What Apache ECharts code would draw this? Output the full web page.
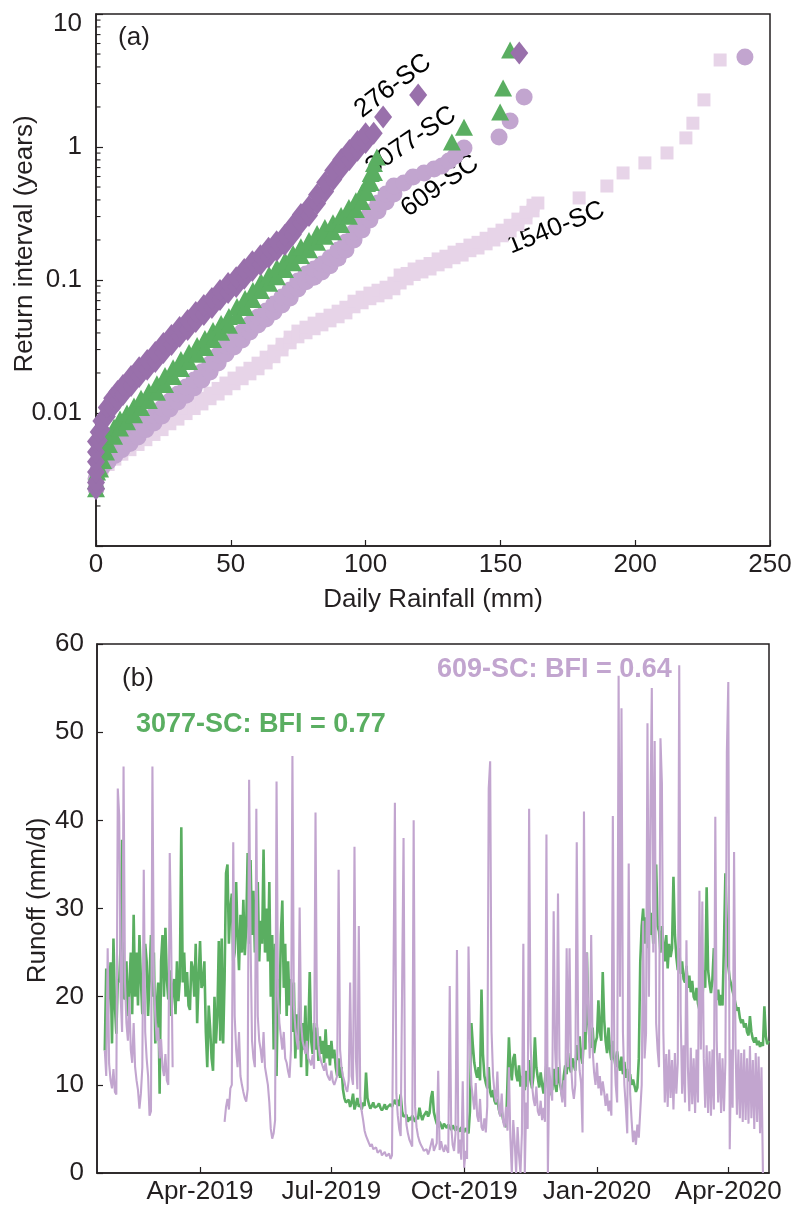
<!DOCTYPE html>
<html>
<head>
<meta charset="utf-8">
<script src="https://cdn.jsdelivr.net/npm/echarts@6/dist/echarts.min.js"></script>
<style>
html,body{margin:0;padding:0;background:#fff;}
#c{width:795px;height:1208px;}
</style>
</head>
<body>
<div id="c"></div>
<script>
// ---------- Panel (a): return interval (years) vs daily rainfall (mm) ----------
// each entry: [rainfall, lowest return interval, highest return interval] of the vertical run of markers at that rainfall
const s276 = [[0,0.0027,0.0030],[0,0.0036,0.0043],[0,0.0051,0.0061],[1,0.0062,0.0072],[2,0.0075,0.0087],[4,0.0094,0.0110],[6,0.0110,0.0129],[8,0.0124,0.0145],[10,0.0138,0.0161],[13,0.0161,0.0188],[16,0.0188,0.0219],[19,0.0213,0.0248],[22,0.0244,0.0285],[25,0.0285,0.0333],[28,0.0328,0.0382],[31,0.0377,0.0440],[34,0.0425,0.0496],[37,0.0488,0.0569],[40,0.0550,0.0642],[43,0.0621,0.0725],[46,0.0714,0.0833],[49,0.0806,0.0941],[52,0.0894,0.104],[55,0.103,0.120],[58,0.118,0.137],[61,0.131,0.152],[64,0.148,0.173],[67,0.167,0.194],[70,0.185,0.216],[73,0.220,0.257],[76,0.267,0.311],[79,0.306,0.356],[82,0.376,0.438],[85,0.463,0.540],[88,0.570,0.665],[91,0.690,0.805],[94,0.806,0.941],[97,0.944,1.10],[100,1.08,1.26],[103,1.27,1.27],[106.5,1.68,1.68],[119.5,2.46,2.46],[157,5.09,5.09]];
const s3077 = [[0,0.0027,0.0031],[0.4,0.0036,0.0036],[1.5,0.0038,0.0044],[2.6,0.0044,0.0052],[3.7,0.0051,0.0059],[4.8,0.0058,0.0068],[6.7,0.0067,0.0078],[8.9,0.0077,0.0090],[11.5,0.0086,0.0100],[14.1,0.0097,0.0113],[16.7,0.0110,0.0129],[19.6,0.0124,0.0145],[22.6,0.0143,0.0166],[25.6,0.0164,0.0191],[28.6,0.0188,0.0219],[31.5,0.0216,0.0252],[34.5,0.0244,0.0285],[37.5,0.0276,0.0322],[40.4,0.0311,0.0363],[43.4,0.0357,0.0417],[46.4,0.0404,0.0471],[49.3,0.0456,0.0531],[52.3,0.0542,0.0632],[55.3,0.0621,0.0725],[58.2,0.0714,0.0833],[61.2,0.0835,0.0974],[64.2,0.0944,0.110],[67.1,0.106,0.124],[70.1,0.120,0.140],[73.1,0.135,0.158],[76.0,0.153,0.178],[79.0,0.169,0.198],[82.0,0.192,0.224],[84.9,0.213,0.248],[87.9,0.231,0.270],[90.9,0.261,0.305],[93.8,0.301,0.351],[96.4,0.339,0.395],[98.7,0.390,0.455],[100.5,0.456,0.531],[101.9,0.542,0.632],[103.1,0.644,0.751],[104.2,0.841,0.841],[132.0,1.09,1.09],[136.5,1.41,1.41],[149.9,1.83,1.83],[151.0,2.78,2.78],[153.6,5.36,5.36]];
const s609 = [[0,0.0027,0.0032],[0.7,0.0037,0.0037],[2.2,0.0039,0.0045],[4.5,0.0043,0.0049],[7.0,0.0048,0.0055],[9.6,0.0053,0.0061],[12.6,0.0059,0.0068],[15.6,0.0066,0.0076],[18.5,0.0075,0.0086],[21.5,0.0084,0.0096],[24.5,0.0095,0.0109],[27.4,0.0107,0.0123],[30.4,0.0121,0.0139],[33.4,0.0136,0.0157],[36.4,0.0154,0.0177],[39.3,0.0177,0.0204],[42.3,0.0203,0.0234],[45.3,0.0238,0.0273],[48.2,0.0278,0.0319],[51.2,0.0313,0.0360],[54.2,0.0354,0.0406],[57.1,0.0407,0.0467],[60.1,0.0459,0.0527],[63.1,0.0509,0.0585],[66.0,0.0574,0.0659],[69.0,0.0648,0.0745],[72.0,0.0732,0.0842],[74.9,0.0855,0.0983],[77.9,0.0970,0.111],[80.9,0.105,0.121],[83.8,0.115,0.132],[86.8,0.128,0.147],[89.8,0.146,0.168],[92.7,0.168,0.193],[95.7,0.200,0.229],[98.7,0.238,0.273],[101.6,0.283,0.325],[104.6,0.330,0.379],[107.6,0.386,0.444],[110.5,0.443,0.509],[114.2,0.536,0.536],[117.6,0.595,0.595],[121.7,0.638,0.638],[125.4,0.684,0.684],[128.3,0.719,0.719],[130.9,0.785,0.785],[133.2,0.855,0.855],[136.5,0.983,0.983],[149.5,1.19,1.19],[153.6,1.57,1.57],[158.8,2.38,2.38],[240.7,4.75,4.75]];
const s1540 = [[0,0.0027,0.0031],[0.7,0.0035,0.0035],[2.2,0.0037,0.0041],[4.5,0.0041,0.0045],[7.0,0.0045,0.0049],[9.6,0.0049,0.0054],[12.6,0.0053,0.0059],[15.6,0.0058,0.0064],[18.5,0.0063,0.0069],[21.5,0.0069,0.0076],[24.5,0.0075,0.0083],[27.4,0.0083,0.0091],[30.4,0.0090,0.0100],[33.4,0.0099,0.0109],[36.4,0.0108,0.0119],[39.3,0.0117,0.0129],[42.3,0.0128,0.0141],[45.3,0.0139,0.0153],[48.2,0.0152,0.0168],[51.2,0.0166,0.0183],[54.2,0.0181,0.0200],[57.1,0.0197,0.0217],[60.1,0.0215,0.0237],[63.1,0.0238,0.0263],[66.0,0.0265,0.0292],[69.0,0.0298,0.0329],[72.0,0.0337,0.0372],[74.9,0.0374,0.0413],[77.9,0.0401,0.0442],[80.9,0.0430,0.0474],[83.8,0.0460,0.0507],[86.8,0.0493,0.0544],[89.8,0.0529,0.0583],[92.7,0.0566,0.0624],[95.7,0.0629,0.0693],[98.7,0.0674,0.0743],[101.6,0.0723,0.0797],[104.6,0.0760,0.0838],[107.6,0.0801,0.0883],[110.5,0.0859,0.0947],[112.8,0.0950,0.109],[115.4,0.102,0.112],[118.0,0.110,0.121],[120.9,0.115,0.127],[123.9,0.121,0.133],[126.9,0.130,0.144],[129.8,0.137,0.151],[132.8,0.147,0.162],[135.8,0.154,0.170],[138.7,0.166,0.183],[141.7,0.174,0.192],[144.7,0.187,0.206],[147.6,0.200,0.221],[150.6,0.215,0.237],[153.6,0.234,0.258],[156.5,0.260,0.287],[159.5,0.293,0.323],[162.1,0.331,0.365],[163.9,0.379,0.379],[179.2,0.414,0.414],[189.5,0.509,0.509],[195.5,0.638,0.638],[203.6,0.759,0.759],[211.8,0.902,0.902],[218.8,1.17,1.17],[221.4,1.51,1.51],[225.5,2.26,2.26],[231.5,4.51,4.51]];
const rainTicks = [0, 50, 100, 150, 200, 250];
const logMinorTicks = [0.002,0.003,0.004,0.005,0.006,0.007,0.008,0.009,0.02,0.03,0.04,0.05,0.06,0.07,0.08,0.09,0.2,0.3,0.4,0.5,0.6,0.7,0.8,0.9,2,3,4,5,6,7,8,9];
const stationLabels = ['276-SC','3077-SC','609-SC','1540-SC'];

// ---------- Panel (b): daily runoff (mm/d), day 0 = 2019-01-20 ----------
const runoffStart = [2019, 0, 20];
const runoff3077 = [
null,null,null,null,null,13.9,23.2,17.8,21,23.9,
14.7,26.6,19,15.8,22,21.6,26,37.8,20,19.7,
24,17.8,21,25,18,29.3,20,25,19,27,
22,18,21.6,26,24,17.8,22,27,20,25,
14.7,19,21.6,9,24,27,20,27.8,22,19.7,
23,17.8,21,22,18,24,19.5,22,39.2,21.6,
25,20,22.8,19,18.5,24,23.2,20,26,17,
22,26.3,21,21.6,24,16,12,19,16.4,13,
11.6,20,14.7,18,26.3,15,26.6,14.7,22,34,
35,26,30,31.7,24,25,33,27,23,29.3,
25,31,24.7,28,36.3,26,35.5,27,32,25,
30,33,24,28.6,26,36.7,25,30,24,33,
20,27,14,26,11,22,18,27,30.9,21,
26,17.8,24,19,22,16,21.6,13,18,15,
20,12,17,14,19,11,16,22.8,15,13.5,
17,14,16.5,12.7,15.5,13.5,15,12.5,16.3,13,
14.5,12.2,15,13,14,12,11,13,10.8,12,
9.5,8.5,8,7.8,8.3,7.5,8,9,7.2,7.8,
8.5,7.5,7.8,7.2,8,7.6,11.4,8.5,7.8,7.3,
7.6,8,7.4,7.2,7.6,7.9,7.4,7.1,7.4,7.8,
7.2,7.5,7.3,7.8,7.5,7.4,8.3,7.8,8.3,7.6,
8.9,7,6.4,6.2,6.6,5.8,6.3,6.0,6.5,6.2,
5.8,6.4,6.1,7.4,6.6,6.0,6.5,6.3,7.0,6.4,
6.8,8.5,9.3,6.9,6.2,5.6,5.2,5.8,5.4,5.0,
5.6,5.4,5.1,5.5,5.3,4.9,5.4,5.2,4.8,5.3,
5.0,4.7,5.2,4.9,4.6,5.1,4.8,4.5,7,17,
14.5,12.5,11.5,10.8,12,10.5,20.8,13.5,11,10.2,
9.6,12,9.2,8.6,9.4,8.2,7.8,8.4,7.2,6.6,
7,6,5.6,5.2,5,15.4,12,10.5,13,13.5,
11.2,10.4,12.2,9.8,11,10.2,9.4,11.6,9.8,12.8,
10.6,9.6,11,15.4,12,10.8,9.7,11.4,10,9,
10.6,12.4,9.8,8.8,10.2,9.4,11.8,10,9.2,12,
10.4,9.6,8.6,11,12.2,11.2,13.6,12,11.4,13,
12.2,11.6,14.5,12.8,15.5,13.2,12.4,16,14,25,
17,15,14.2,16.5,13.6,14.8,15.4,19.6,16,15,
22.8,17.4,15,13.6,16.5,14,12.8,15,13,12,
13.8,12.4,11.6,13.2,11.2,12.6,10.8,11.8,10.4,11.2,
10,10.6,9.9,9.2,9.7,13,23.9,28,30,26,
29,25.5,31,27,29.5,26,32,35,28,27.4,
25,28,26,24,27,23.2,26,24.5,25.5,33.6,
27,24.5,23,25.5,22.6,24,22,21.6,23.5,21,
22.4,20.5,21.8,20,19.6,21,19.2,18.5,20,19.4,
23,21,32.4,23,21.5,20.4,22,25.5,21,19.6,
20.8,19,20.2,19,26,34,28,23.5,22,21.4,
20.6,20,19.2,18.4,18.8,17.6,17,17.4,16.5,17,
16,15.6,17.8,16,15.2,14.8,15.4,14.5,15,14.3,
14.8,14.4,18.9,15.5,14.6,15
];
const runoff609 = [
null,null,null,null,null,13.9,11,25.5,12.4,10.5,
9.6,11.8,9.2,8.9,43.6,40.5,20,16,46.1,21.6,
17,15,20,14,12.5,17,12,10.5,9.4,7.3,
9,12,34.4,16,13,11,6.5,7,46.1,22,
17.8,15,16.5,13,15.2,12,11,13.5,10.5,10,
36.3,26.3,12,null,null,null,null,null,null,null,
null,null,null,null,null,null,null,null,null,null,
null,null,null,null,null,null,null,null,null,null,
null,null,null,null,null,null,null,null,5.8,7.5,
8.4,7.2,9.6,10,37.5,17.8,14,12,16,11,
10,9.2,8.5,8.1,9.5,44.6,26.3,15,13,12,
41.3,17.8,15,14,12.5,16,12,11,10,8,
5,3.9,4.5,6,44.4,20,17,15.5,14,16,
13,12.5,11.5,10.8,14,47.3,19,16.5,15,14,
30.1,17,15,14.3,13.5,15,13,12.7,12.2,13.4,
11.8,40.9,17,14.5,13.3,12.6,12.1,11.6,12.5,11.2,
10.8,10.5,11.6,10.4,10,9.8,11,34.4,14,12,
11,10.4,9.6,9.2,10.5,21.6,11,10,37,13,
9.5,28,8.6,7,6,4.8,4.2,3.8,3.4,3,
3.3,2.7,2.5,2.9,2.3,2.1,2.6,2,1.8,2.4,
1.9,1.7,2.2,1.6,2,1.8,42,9,6.5,5,
4.2,4,38,8,5.5,4.5,3.8,3.4,3,40,
7.5,5.2,4.2,3.6,3.2,2.9,2.5,2.3,2.7,2.1,
2.6,2.4,3.9,2.5,2.3,3.4,11.6,2.6,3.6,2.8,
2.4,3.2,2.6,2.3,21.2,5.4,3.2,2.5,4.5,25.3,
2.2,3.8,1.5,10.4,0.6,2.5,1.6,25.7,15.4,10,
8.6,7.2,10.2,6.5,5.8,8.4,5.2,4.8,6.2,4.6,
7.6,43.6,46.7,16,11,9.2,8,11.5,7.2,6.4,
9,5.8,5.2,7.5,4.8,12,4,0,6,3.5,
0,5.2,2,0,4.5,26,0,8,5,41.3,
15,10,8.4,7.6,9.8,7,6.5,8.2,6,7.4,
5.8,38.4,0,12,9.5,8.2,29.7,14,10,31.7,
13,9.4,8,10.5,7.5,25.5,12,25.5,12.5,9.6,
8.4,10,37.5,15,11.6,10.2,4.6,41,16,25,
18,13,27,14,11.4,10,12.5,9.6,11,8.8,
10.4,9.2,7.6,9,7,8.2,6.5,40.5,14,10,
8,56.4,20,52.7,16,10,7.5,4.5,35.1,9,
6,3.5,4.8,3.2,5.5,4,7,10,28.6,13,
15.8,51,20,40,55,25,49,17,14,12,
49.3,44.2,16,8,13.5,7.5,14,8.5,12.8,7.2,
13.6,9,12.5,57.6,18,9,14.5,8,26.4,12,
7,14.2,7.8,13,6.8,14,8,32,14,30.8,
13,7.4,14.5,6.8,13.8,6.5,14,7.2,40.4,15,
8,13.6,6.8,13,7,12.6,47.7,55.7,2.7,14,
7.4,36.4,14.5,6.6,14,6.2,13.6,5.8,14,6,
13,5.6,14.4,6.2,12.8,5,13.6,5.8,13.2,4.5,
12,0,null,null,null,null
];
const runoffTicks = [0, 10, 20, 30, 40, 50, 60];
const dateTicks = ['2019-04-01','2019-07-01','2019-10-01','2020-01-01','2020-04-01'];
const bfiLabels = ['3077-SC: BFI = 0.77', '609-SC: BFI = 0.64'];

// ---------- build ----------
const DAY = 86400000;
const t0 = Date.UTC(runoffStart[0], runoffStart[1], runoffStart[2]);
const toPairs = arr => arr.map((v, i) => [t0 + i * DAY, v === null ? '-' : v]);
const runsToPoints = runs => {
  const out = [];
  runs.forEach(r => { out.push([r[0], r[1]]); if (r[2] !== r[1]) out.push([r[0], r[2]]); });
  return out;
};
const parseDay = s => { const p = s.split('-').map(Number); return Date.UTC(p[0], p[1]-1, p[2]); };
const dateTickVals = dateTicks.map(parseDay);
const MON = ['Jan','Feb','Mar','Apr','May','Jun','Jul','Aug','Sep','Oct','Nov','Dec'];

const FONT = '"Liberation Sans", Arial, Helvetica, sans-serif';
const INK = '#231f20';
const C276 = '#9970ab', C3077 = '#5aae61', C609 = '#c2a5cf', C1540 = '#e7d4e8';
const D2R = Math.PI / 180;

const chart = echarts.init(document.getElementById('c'), null, {renderer: 'canvas'});

const axisCommon = {
  axisLine: {show: true, onZero: false, lineStyle: {color: INK, width: 1.5}},
  splitLine: {show: false},
  nameMoveOverlap: false
};

chart.setOption({
  animation: false,
  backgroundColor: '#fff',
  textStyle: {fontFamily: FONT},
  grid: [
    {left: 96, top: 14, width: 674, height: 532, show: true, borderColor: INK, borderWidth: 1.5,
      backgroundColor: 'transparent', containLabel: false, outerBoundsMode: 'none'},
    {left: 97, top: 644, width: 672, height: 529, show: true, borderColor: INK, borderWidth: 1.5,
      backgroundColor: 'transparent', containLabel: false, outerBoundsMode: 'none'}
  ],
  xAxis: [
    Object.assign({}, axisCommon, {
      gridIndex: 0, type: 'value', min: rainTicks[0], max: rainTicks[rainTicks.length-1], interval: 50,
      axisTick: {inside: true, length: 6, lineStyle: {color: INK, width: 1.2}},
      axisLabel: {fontSize: 26, color: INK, margin: 6, fontFamily: FONT},
      name: 'Daily Rainfall (mm)', nameLocation: 'middle', nameGap: 41,
      nameTextStyle: {fontSize: 26, color: INK, fontFamily: FONT}
    }),
    Object.assign({}, axisCommon, {
      gridIndex: 1, type: 'value',
      min: t0 - 0.4 * DAY, max: t0 + 465.2 * DAY,
      axisTick: {inside: true, length: 6, lineStyle: {color: INK, width: 1.2}, customValues: dateTickVals},
      axisLabel: {fontSize: 26, color: INK, margin: 6, fontFamily: FONT, customValues: dateTickVals,
        hideOverlap: false,
        formatter: v => { const d = new Date(v); return MON[d.getUTCMonth()] + '-' + d.getUTCFullYear(); }}
    })
  ],
  yAxis: [
    Object.assign({}, axisCommon, {
      gridIndex: 0, type: 'log', logBase: 10, min: 0.001, max: 10,
      axisTick: {inside: true, length: 7, lineStyle: {color: INK, width: 1.2}},
      axisLabel: {fontSize: 26, color: INK, margin: 14, fontFamily: FONT,
        formatter: v => {
          if (Math.abs(v - 10) < 1e-6) return '{t|10}';
          if (v < 0.005) return '';
          return String(+v.toPrecision(2));
        },
        rich: {t: {fontSize: 26, color: INK, fontFamily: FONT, padding: [19, 0, 0, 0]}}
      },
      name: 'Return interval (years)', nameLocation: 'middle', nameGap: 58,
      nameTextStyle: {fontSize: 26, color: INK, fontFamily: FONT, padding: [0, 0, 0, 72]}
    }),
    Object.assign({}, axisCommon, {
      gridIndex: 1, type: 'value', min: runoffTicks[0], max: runoffTicks[runoffTicks.length-1], interval: 10,
      axisTick: {inside: true, length: 6, lineStyle: {color: INK, width: 1.2}},
      axisLabel: {fontSize: 26, color: INK, margin: 13, fontFamily: FONT},
      name: 'Runoff (mm/d)', nameLocation: 'middle', nameGap: 46,
      nameTextStyle: {fontSize: 26, color: INK, fontFamily: FONT, padding: [0, 0, 0, 16]}
    })
  ],
  series: [
    {
      type: 'custom', xAxisIndex: 0, yAxisIndex: 0, silent: true, clip: false,
      data: logMinorTicks.map(v => [0, v]),
      encode: {x: 0, y: 1},
      renderItem: (params, api) => {
        const p = api.coord([api.value(0), api.value(1)]);
        return {type: 'line', shape: {x1: p[0], y1: p[1], x2: p[0] + 4.5, y2: p[1]},
          style: {stroke: INK, lineWidth: 1.1}};
      }
    },
    {name: '1540-SC', type: 'scatter', xAxisIndex: 0, yAxisIndex: 0, data: runsToPoints(s1540),
      symbol: 'rect', symbolSize: 13, itemStyle: {color: C1540, opacity: 1}},
    {name: '609-SC', type: 'scatter', xAxisIndex: 0, yAxisIndex: 0, data: runsToPoints(s609),
      symbol: 'circle', symbolSize: 17, itemStyle: {color: C609, opacity: 1}},
    {name: '3077-SC', type: 'scatter', xAxisIndex: 0, yAxisIndex: 0, data: runsToPoints(s3077),
      symbol: 'triangle', symbolSize: [18, 17], itemStyle: {color: C3077, opacity: 1}},
    {name: '276-SC', type: 'scatter', xAxisIndex: 0, yAxisIndex: 0, data: runsToPoints(s276),
      symbol: 'diamond', symbolSize: [18, 23], itemStyle: {color: C276, opacity: 1}},
    {name: '3077-SC runoff', type: 'line', xAxisIndex: 1, yAxisIndex: 1, data: toPairs(runoff3077),
      showSymbol: false, connectNulls: false, lineStyle: {color: C3077, width: 2.6}, itemStyle: {color: C3077}},
    {name: '609-SC runoff', type: 'line', xAxisIndex: 1, yAxisIndex: 1, data: toPairs(runoff609),
      showSymbol: false, connectNulls: false, lineStyle: {color: C609, width: 2.1}, itemStyle: {color: C609}}
  ],
  graphic: [
    {type: 'text', x: 134, y: 38, style: {text: '(a)', font: '26px ' + FONT, fill: INK, align: 'center', verticalAlign: 'middle'}},
    {type: 'text', x: 138, y: 679, style: {text: '(b)', font: '26px ' + FONT, fill: INK, align: 'center', verticalAlign: 'middle'}},
    {type: 'text', x: 393, y: 86, rotation: 37 * D2R, style: {text: stationLabels[0], font: '26px ' + FONT, fill: '#000', align: 'center', verticalAlign: 'middle'}},
    {type: 'text', x: 411, y: 141, rotation: 34 * D2R, style: {text: stationLabels[1], font: '26px ' + FONT, fill: '#000', align: 'center', verticalAlign: 'middle'}},
    {type: 'text', x: 440, y: 186, rotation: 35 * D2R, style: {text: stationLabels[2], font: '26px ' + FONT, fill: '#000', align: 'center', verticalAlign: 'middle'}},
    {type: 'text', x: 556, y: 228, rotation: 22 * D2R, style: {text: stationLabels[3], font: '26px ' + FONT, fill: '#000', align: 'center', verticalAlign: 'middle'}},
    {type: 'text', x: 136, y: 725, style: {text: bfiLabels[0], font: 'bold 27px ' + FONT, fill: C3077, align: 'left', verticalAlign: 'middle'}},
    {type: 'text', x: 437, y: 670, style: {text: bfiLabels[1], font: 'bold 27px ' + FONT, fill: C609, align: 'left', verticalAlign: 'middle'}}
  ]
});
</script>
</body>
</html>
